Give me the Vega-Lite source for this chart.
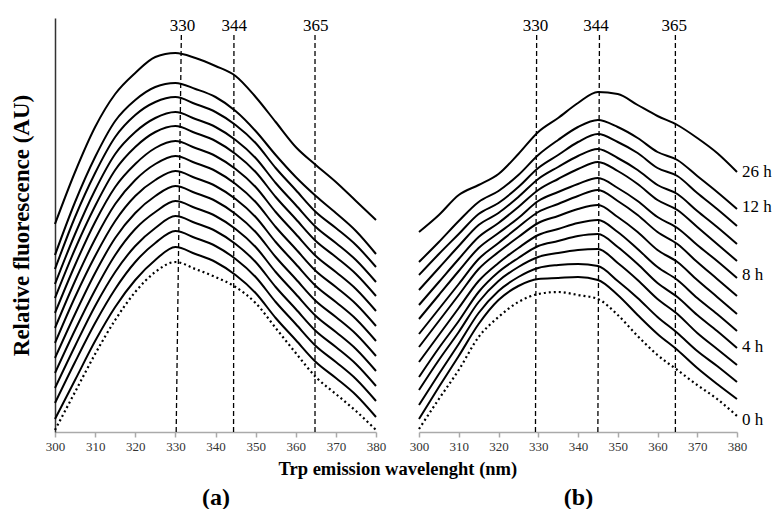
{
  "$schema": "https://vega.github.io/schema/vega-lite/v6.json",
  "padding": {"left": 10, "top": 16, "right": 0, "bottom": 0},
  "background": "white",
  "bounds": "flush",
  "spacing": 43,
  "config": {
    "font": "Liberation Serif",
    "view": {"stroke": null},
    "axis": {"grid": false}
  },
  "title": {
    "text": "Trp emission wavelenght (nm)",
    "orient": "bottom",
    "anchor": "middle",
    "fontSize": 18.5,
    "fontWeight": "bold",
    "font": "Liberation Serif",
    "color": "#000",
    "offset": -49,
    "dx": 7
  },
  "datasets": {
    "a": [
      {"w":300,"h0":2,"h1":13,"h2":29,"h3":44,"h4":59,"h5":74,"h6":89,"h7":104,"h8":119,"h9":134,"h10":148,"h11":163,"h12":177,"h26":208},
      {"w":305,"h0":40,"h1":52,"h2":70,"h3":86,"h4":102,"h5":118,"h6":135,"h7":151,"h8":167,"h9":183,"h10":198,"h11":215,"h12":230,"h26":260},
      {"w":310,"h0":78,"h1":91,"h2":109,"h3":126,"h4":142,"h5":159,"h6":176,"h7":193,"h8":210,"h9":226,"h10":242,"h11":259,"h12":275,"h26":305},
      {"w":315,"h0":112,"h1":125,"h2":143,"h3":160,"h4":177,"h5":194,"h6":211,"h7":228,"h8":245,"h9":262,"h10":278,"h11":295,"h12":311,"h26":338},
      {"w":320,"h0":140,"h1":152,"h2":170,"h3":186,"h4":203,"h5":219,"h6":236,"h7":252,"h8":268,"h9":285,"h10":300,"h11":317,"h12":332,"h26":359},
      {"w":325,"h0":160,"h1":172,"h2":189,"h3":204,"h4":220,"h5":236,"h6":252,"h7":268,"h8":284,"h9":300,"h10":314,"h11":330,"h12":345,"h26":375},
      {"w":330,"h0":170,"h1":185,"h2":201,"h3":216,"h4":231,"h5":246,"h6":261,"h7":276,"h8":291,"h9":306,"h10":320,"h11":335,"h12":349,"h26":379},
      {"w":335,"h0":163,"h1":178,"h2":194,"h3":209,"h4":224,"h5":239,"h6":254,"h7":269,"h8":284,"h9":299,"h10":313,"h11":328,"h12":343,"h26":374},
      {"w":340,"h0":155,"h1":170,"h2":186,"h3":201,"h4":216,"h5":231,"h6":246,"h7":261,"h8":276,"h9":291,"h10":305,"h11":320,"h12":335,"h26":366},
      {"w":345,"h0":145,"h1":157,"h2":173,"h3":188,"h4":203,"h5":218,"h6":233,"h7":248,"h8":263,"h9":278,"h10":292,"h11":307,"h12":321,"h26":356},
      {"w":350,"h0":129,"h1":139,"h2":155,"h3":170,"h4":185,"h5":200,"h6":215,"h7":230,"h8":245,"h9":260,"h10":274,"h11":289,"h12":301,"h26":335},
      {"w":355,"h0":104,"h1":114,"h2":130,"h3":145,"h4":160,"h5":175,"h6":190,"h7":205,"h8":220,"h9":235,"h10":249,"h11":264,"h12":277,"h26":310},
      {"w":360,"h0":79,"h1":92,"h2":108,"h3":123,"h4":138,"h5":153,"h6":168,"h7":183,"h8":198,"h9":213,"h10":227,"h11":242,"h12":255,"h26":285},
      {"w":365,"h0":55,"h1":70,"h2":86,"h3":101,"h4":116,"h5":131,"h6":146,"h7":161,"h8":176,"h9":191,"h10":205,"h11":220,"h12":236,"h26":267},
      {"w":370,"h0":38,"h1":54,"h2":70,"h3":85,"h4":100,"h5":115,"h6":130,"h7":145,"h8":160,"h9":175,"h10":189,"h11":204,"h12":219,"h26":250},
      {"w":375,"h0":21,"h1":37,"h2":53,"h3":68,"h4":83,"h5":98,"h6":113,"h7":128,"h8":143,"h9":158,"h10":172,"h11":187,"h12":201,"h26":231},
      {"w":380,"h0":2,"h1":15,"h2":31,"h3":46,"h4":61,"h5":76,"h6":91,"h7":106,"h8":121,"h9":136,"h10":150,"h11":165,"h12":178,"h26":212}
    ],
    "b": [
      {"w":300,"h0":3,"h1":13,"h2":27,"h3":42,"h4":55,"h5":70,"h6":85,"h7":98,"h8":113,"h9":127,"h10":142,"h11":157,"h12":170,"h26":200},
      {"w":305,"h0":33,"h1":45,"h2":58,"h3":72,"h4":84,"h5":97,"h6":111,"h7":123,"h8":137,"h9":150,"h10":164,"h11":178,"h12":190,"h26":217},
      {"w":310,"h0":62,"h1":76,"h2":88,"h3":100,"h4":111,"h5":124,"h6":137,"h7":148,"h8":161,"h9":173,"h10":186,"h11":198,"h12":211,"h26":237},
      {"w":315,"h0":95,"h1":108,"h2":119,"h3":130,"h4":140,"h5":151,"h6":163,"h7":173,"h8":184,"h9":195,"h10":207,"h11":218,"h12":230,"h26":247},
      {"w":320,"h0":115,"h1":132,"h2":141,"h3":151,"h4":160,"h5":169,"h6":180,"h7":189,"h8":199,"h9":209,"h10":219,"h11":229,"h12":241,"h26":258},
      {"w":325,"h0":130,"h1":146,"h2":155,"h3":165,"h4":174,"h5":184,"h6":195,"h7":205,"h8":214,"h9":225,"h10":235,"h11":245,"h12":257,"h26":278},
      {"w":330,"h0":138,"h1":153,"h2":164,"h3":175,"h4":186,"h5":197,"h6":209,"h7":220,"h8":231,"h9":242,"h10":253,"h11":264,"h12":277,"h26":300},
      {"w":335,"h0":140,"h1":154,"h2":167,"h3":179,"h4":191,"h5":203,"h6":216,"h7":228,"h8":240,"h9":253,"h10":265,"h11":277,"h12":292,"h26":314},
      {"w":340,"h0":137,"h1":155,"h2":168,"h3":182,"h4":196,"h5":209,"h6":223,"h7":236,"h8":248,"h9":263,"h10":276,"h11":290,"h12":305,"h26":329},
      {"w":345,"h0":133,"h1":152,"h2":166,"h3":183,"h4":198,"h5":212,"h6":227,"h7":242,"h8":254,"h9":270,"h10":283,"h11":298,"h12":312,"h26":340},
      {"w":350,"h0":117,"h1":137,"h2":151,"h3":169,"h4":185,"h5":200,"h6":215,"h7":231,"h8":244,"h9":261,"h10":274,"h11":290,"h12":305,"h26":338},
      {"w":355,"h0":96,"h1":117,"h2":134,"h3":152,"h4":168,"h5":183,"h6":200,"h7":217,"h8":231,"h9":248,"h10":262,"h11":279,"h12":294,"h26":327},
      {"w":360,"h0":77,"h1":98,"h2":115,"h3":133,"h4":149,"h5":165,"h6":182,"h7":200,"h8":215,"h9":232,"h10":247,"h11":264,"h12":280,"h26":316},
      {"w":365,"h0":62,"h1":82,"h2":99,"h3":118,"h4":135,"h5":152,"h6":170,"h7":188,"h8":204,"h9":222,"h10":238,"h11":256,"h12":272,"h26":307},
      {"w":370,"h0":47,"h1":64,"h2":81,"h3":99,"h4":117,"h5":134,"h6":152,"h7":170,"h8":187,"h9":205,"h10":221,"h11":239,"h12":256,"h26":294},
      {"w":375,"h0":33,"h1":48,"h2":66,"h3":83,"h4":101,"h5":118,"h6":135,"h7":153,"h8":171,"h9":188,"h10":205,"h11":223,"h12":240,"h26":279},
      {"w":380,"h0":16,"h1":33,"h2":50,"h3":67,"h4":84,"h5":101,"h6":118,"h7":136,"h8":154,"h9":171,"h10":188,"h11":206,"h12":223,"h26":260}
    ],
    "ra": [
      {"w":330.2,"w2":331.5},
      {"w":344.5,"w2":344.6},
      {"w":364.8,"w2":364.8}
    ],
    "ta": [
      {"w":331.8,"t":"330"},
      {"w":344.7,"t":"344"},
      {"w":365.0,"t":"365"}
    ],
    "rb": [
      {"w":329.3,"w2":329.6},
      {"w":345.0,"w2":345.4},
      {"w":364.5,"w2":364.5}
    ],
    "tb": [
      {"w":329.3,"t":"330"},
      {"w":344.5,"t":"344"},
      {"w":364.2,"t":"365"}
    ],
    "lb": [
      {"t":"26 h","w":380,"y":260},
      {"t":"12 h","w":380,"y":225},
      {"t":"8 h","w":380,"y":157},
      {"t":"4 h","w":380,"y":85},
      {"t":"0 h","w":380,"y":12}
    ]
  },
  "hconcat": [
    {
      "width": 321,
      "height": 414,
      "encoding": {
        "x": {"field": "w", "type": "quantitative",
          "scale": {"domain": [300, 380], "nice": false, "zero": false},
          "axis": {"title": "(a)", "values": [300,310,320,330,340,350,360,370,380],
            "labelOverlap": false, "labelFlush": false,
            "domainColor": "#aaa", "domainWidth": 1.5, "tickColor": "#aaa", "tickWidth": 1.5, "tickSize": 5,
            "labelFontSize": 13, "labelColor": "#333", "labelPadding": 3, "labelFont": "Liberation Serif",
            "titleFontSize": 24, "titleFontWeight": "bold", "titleColor": "#000", "titlePadding": 32, "titleFont": "Liberation Serif"}}
      },
      "layer": [
        {
          "data": {"name": "a"},
          "transform": [{"fold": ["h1","h2","h3","h4","h5","h6","h7","h8","h9","h10","h11","h12","h26"]}],
          "mark": {"type": "line", "interpolate": "monotone", "stroke": "#000", "strokeWidth": 2},
          "encoding": {
            "y": {"field": "value", "type": "quantitative",
              "scale": {"domain": [0, 414], "nice": false, "zero": false},
              "axis": {"title": "Relative fluorescence (AU)", "ticks": false, "labels": false,
                "domainColor": "#333", "domainWidth": 1.5,
                "titleFontSize": 23, "titleFontWeight": "bold", "titleColor": "#000", "titlePadding": 22, "titleFont": "Liberation Serif"}},
            "detail": {"field": "key"}
          }
        },
        {
          "data": {"name": "a"},
          "mark": {"type": "line", "interpolate": "monotone", "stroke": "#000", "strokeWidth": 2.2, "strokeDash": [2, 3]},
          "encoding": {
            "y": {"field": "h0", "type": "quantitative"}
          }
        },
        {
          "data": {"name": "ra"},
          "mark": {"type": "rule", "stroke": "#000", "strokeWidth": 1.3, "strokeDash": [5, 3]},
          "encoding": {
            "x2": {"field": "w2"},
            "y": {"datum": 0, "type": "quantitative"},
            "y2": {"datum": 400}
          }
        },
        {
          "data": {"name": "ta"},
          "mark": {"type": "text", "fontSize": 17, "color": "#000", "baseline": "middle", "align": "center", "font": "Liberation Serif"},
          "encoding": {
            "y": {"datum": 406, "type": "quantitative"},
            "text": {"field": "t"}
          }
        }
      ]
    },
    {
      "width": 318,
      "height": 414,
      "encoding": {
        "x": {"field": "w", "type": "quantitative",
          "scale": {"domain": [300, 380], "nice": false, "zero": false},
          "axis": {"title": "(b)", "values": [300,310,320,330,340,350,360,370,380],
            "labelOverlap": false, "labelFlush": false,
            "domainColor": "#aaa", "domainWidth": 1.5, "tickColor": "#aaa", "tickWidth": 1.5, "tickSize": 5,
            "labelFontSize": 13, "labelColor": "#333", "labelPadding": 3, "labelFont": "Liberation Serif",
            "titleFontSize": 24, "titleFontWeight": "bold", "titleColor": "#000", "titlePadding": 32, "titleFont": "Liberation Serif"}}
      },
      "layer": [
        {
          "data": {"name": "b"},
          "transform": [{"fold": ["h1","h2","h3","h4","h5","h6","h7","h8","h9","h10","h11","h12","h26"]}],
          "mark": {"type": "line", "interpolate": "monotone", "stroke": "#000", "strokeWidth": 2},
          "encoding": {
            "y": {"field": "value", "type": "quantitative",
              "scale": {"domain": [0, 414], "nice": false, "zero": false},
              "axis": null},
            "detail": {"field": "key"}
          }
        },
        {
          "data": {"name": "b"},
          "mark": {"type": "line", "interpolate": "monotone", "stroke": "#000", "strokeWidth": 2.2, "strokeDash": [2, 3]},
          "encoding": {
            "y": {"field": "h0", "type": "quantitative", "axis": null}
          }
        },
        {
          "data": {"name": "rb"},
          "mark": {"type": "rule", "stroke": "#000", "strokeWidth": 1.3, "strokeDash": [5, 3]},
          "encoding": {
            "x2": {"field": "w2"},
            "y": {"datum": 0, "type": "quantitative", "axis": null},
            "y2": {"datum": 400}
          }
        },
        {
          "data": {"name": "tb"},
          "mark": {"type": "text", "fontSize": 17, "color": "#000", "baseline": "middle", "align": "center", "font": "Liberation Serif"},
          "encoding": {
            "y": {"datum": 406, "type": "quantitative", "axis": null},
            "text": {"field": "t"}
          }
        },
        {
          "data": {"name": "lb"},
          "mark": {"type": "text", "fontSize": 17, "color": "#000", "baseline": "middle", "align": "left", "dx": 5, "font": "Liberation Serif"},
          "encoding": {
            "y": {"field": "y", "type": "quantitative", "axis": null},
            "text": {"field": "t"}
          }
        }
      ]
    }
  ]
}
